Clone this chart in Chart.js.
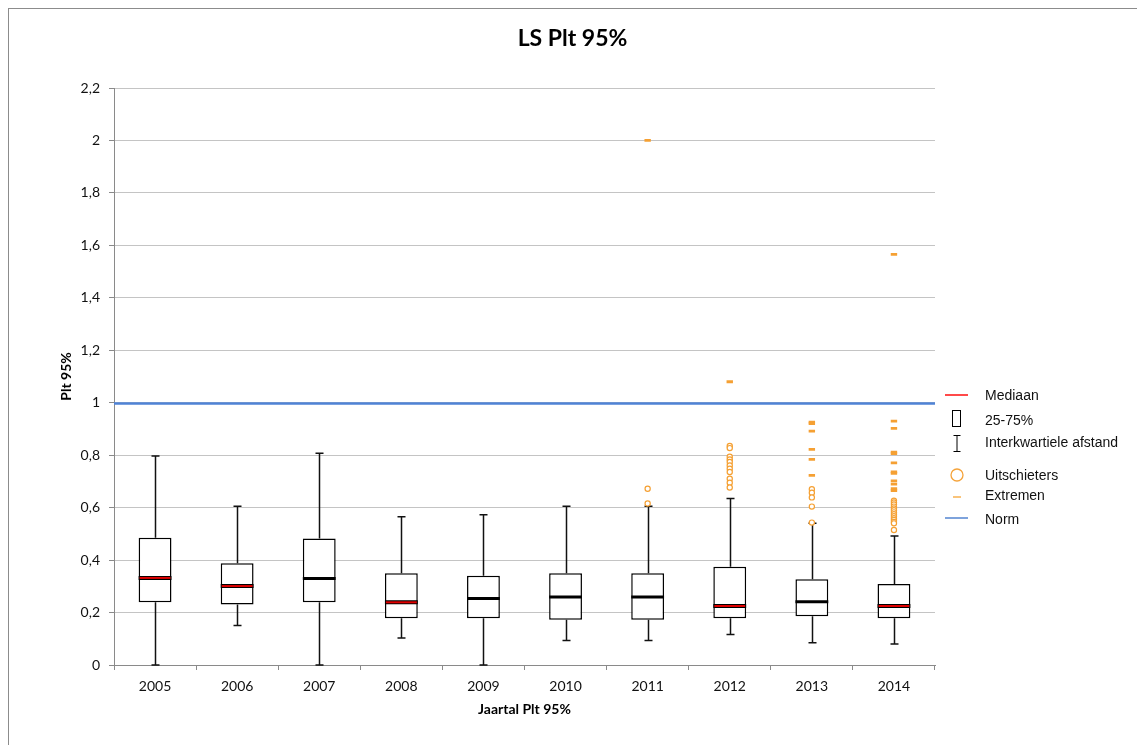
<!DOCTYPE html>
<html>
<head>
<meta charset="utf-8">
<script src="https://cdn.jsdelivr.net/npm/chart.js@4/dist/chart.umd.min.js"></script>
<style>
  html, body { margin: 0; padding: 0; background: #fff; }
  #wrap { position: relative; width: 1137px; height: 745px; overflow: hidden; }
  #frame { position: absolute; left: 8px; top: 8px; width: 1200px; height: 800px; border: 1px solid #8c8c8c; box-sizing: border-box; }
  canvas { position: absolute; left: 0; top: 0; }
  .lg { position: absolute; font-family: "Liberation Sans", Arial, sans-serif; font-size: 14px; color: #111; white-space: nowrap; line-height: 16px; }
  .sym { position: absolute; }
</style>
</head>
<body>
<div id="wrap">
  <div id="frame"></div>
  <canvas id="c" width="1137" height="745"></canvas>
  <!-- legend -->
  <svg class="sym" style="left:944px;top:390px" width="26" height="10"><line x1="1" y1="5" x2="24" y2="5" stroke="#ff4a4a" stroke-width="2"/></svg>
  <div class="lg" style="left:985px;top:387px">Mediaan</div>
  <svg class="sym" style="left:950px;top:409px" width="14" height="20"><rect x="2.5" y="1.5" width="8" height="16" fill="#fff" stroke="#000" stroke-width="1"/></svg>
  <div class="lg" style="left:985px;top:412px">25-75%</div>
  <svg class="sym" style="left:950px;top:433px" width="14" height="22"><line x1="7" y1="2" x2="7" y2="19" stroke="#000" stroke-width="1"/><line x1="3.5" y1="2.5" x2="10.5" y2="2.5" stroke="#000" stroke-width="1"/><line x1="3.5" y1="18.5" x2="10.5" y2="18.5" stroke="#000" stroke-width="1"/></svg>
  <div class="lg" style="left:985px;top:434px">Interkwartiele afstand</div>
  <svg class="sym" style="left:948px;top:466px" width="18" height="18"><circle cx="9" cy="9" r="6" fill="#fff" stroke="#f5a33a" stroke-width="1.3"/></svg>
  <div class="lg" style="left:985px;top:467px">Uitschieters</div>
  <svg class="sym" style="left:950px;top:492px" width="14" height="10"><line x1="3" y1="5" x2="11" y2="5" stroke="#f8b65a" stroke-width="1.6"/></svg>
  <div class="lg" style="left:985px;top:487px">Extremen</div>
  <svg class="sym" style="left:944px;top:513px" width="26" height="10"><line x1="1" y1="5" x2="24" y2="5" stroke="#7ea3dc" stroke-width="2"/></svg>
  <div class="lg" style="left:985px;top:511px">Norm</div>
</div>
<script>
// ---------------- data ----------------
const years = ['2005','2006','2007','2008','2009','2010','2011','2012','2013','2014'];
const lowWhisker  = [0.000, 0.151, 0.000, 0.103, 0.000, 0.093, 0.093, 0.116, 0.085, 0.080];
const q1          = [0.239, 0.231, 0.239, 0.178, 0.178, 0.173, 0.173, 0.178, 0.186, 0.178];
const medians     = [0.332, 0.301, 0.330, 0.239, 0.254, 0.259, 0.259, 0.225, 0.241, 0.225];
const q3          = [0.485, 0.388, 0.482, 0.350, 0.340, 0.350, 0.350, 0.375, 0.327, 0.309];
const highWhisker = [0.797, 0.605, 0.807, 0.565, 0.573, 0.605, 0.605, 0.635, 0.540, 0.492];

const outliers2011 = [0.672, 0.616];
const outliers2012 = [0.835, 0.827, 0.794, 0.784, 0.774, 0.761, 0.748, 0.736, 0.710, 0.695, 0.677];
const outliers2013 = [0.670, 0.657, 0.639, 0.604, 0.543];
const outliers2014 = [0.626, 0.620, 0.612, 0.604, 0.597, 0.590, 0.582, 0.575, 0.567, 0.560, 0.553, 0.545, 0.540, 0.515];

const extremes2011 = [2.0];
const extremes2012 = [1.08];
const extremes2013 = [0.926, 0.920, 0.892, 0.822, 0.784, 0.723];
const extremes2014 = [1.566, 0.930, 0.902, 0.812, 0.806, 0.771, 0.736, 0.731, 0.702, 0.690, 0.672, 0.665];

const normValue = 1;
const yMin = 0, yMax = 2.2, yStep = 0.2;

// ---------------- styles ----------------
const medianStyle = ['red','red','black','red','black','black','black','red','black','red'];
const ORANGE = '#f5a033';

function pts(year, arr) { return arr.map(v => ({ x: year, y: v })); }
const outlierData = [].concat(pts('2011', outliers2011), pts('2012', outliers2012), pts('2013', outliers2013), pts('2014', outliers2014));
const extremeData = [].concat(pts('2011', extremes2011), pts('2012', extremes2012), pts('2013', extremes2013), pts('2014', extremes2014));

const boxPlugin = {
  id: 'boxParts',
  beforeDatasetsDraw(chart) {
    const ctx = chart.ctx, ys = chart.scales.y, a = chart.chartArea;
    const yp = Math.round(ys.getPixelForValue(normValue)) + 0.5;
    ctx.save();
    ctx.strokeStyle = '#4f83d6';
    ctx.lineWidth = 2.5;
    ctx.beginPath(); ctx.moveTo(a.left, yp); ctx.lineTo(a.right, yp); ctx.stroke();
    ctx.restore();
  },
  afterDatasetDraw(chart, args) {
    if (args.index !== 0) return;
    const ctx = chart.ctx, xs = chart.scales.x, ys = chart.scales.y;
    const meta = chart.getDatasetMeta(0);
    ctx.save();
    years.forEach((yr, i) => {
      const x = Math.round(xs.getPixelForValue(i)) + 0.5;
      const half = meta.data[i].width / 2;
      const pLow = ys.getPixelForValue(lowWhisker[i]);
      const pQ1 = ys.getPixelForValue(q1[i]);
      const pQ3 = ys.getPixelForValue(q3[i]);
      const pHigh = ys.getPixelForValue(highWhisker[i]);
      ctx.strokeStyle = '#111';
      ctx.lineWidth = 1.5;
      ctx.beginPath();
      ctx.moveTo(x, pQ1); ctx.lineTo(x, pLow);
      ctx.moveTo(x, pQ3); ctx.lineTo(x, pHigh);
      ctx.moveTo(x - 4, pLow); ctx.lineTo(x + 4, pLow);
      ctx.moveTo(x - 4, pHigh); ctx.lineTo(x + 4, pHigh);
      ctx.stroke();
      const pm = ys.getPixelForValue(medians[i]);
      const xl = xs.getPixelForValue(i) - half, xr = xs.getPixelForValue(i) + half;
      if (medianStyle[i] === 'red') {
        ctx.strokeStyle = '#000'; ctx.lineWidth = 4;
        ctx.beginPath(); ctx.moveTo(xl, pm); ctx.lineTo(xr, pm); ctx.stroke();
        ctx.strokeStyle = '#e00000'; ctx.lineWidth = 2;
        ctx.beginPath(); ctx.moveTo(xl + 1, pm); ctx.lineTo(xr - 1, pm); ctx.stroke();
      } else {
        ctx.strokeStyle = '#000'; ctx.lineWidth = 3;
        ctx.beginPath(); ctx.moveTo(xl, pm); ctx.lineTo(xr, pm); ctx.stroke();
      }
    });
    ctx.restore();
  }
};

new Chart(document.getElementById('c'), {
  type: 'bar',
  data: {
    labels: years,
    datasets: [
      {
        label: '25-75%',
        data: years.map((y, i) => [q1[i], q3[i]]),
        backgroundColor: '#ffffff',
        borderColor: '#000000',
        borderWidth: 1.5,
        borderSkipped: false,
        barPercentage: 0.4,
        categoryPercentage: 1.0,
        order: 3
      },
      {
        type: 'line',
        label: 'Uitschieters',
        data: outlierData,
        showLine: false,
        pointStyle: 'circle',
        pointRadius: 2.6,
        pointBorderWidth: 1.2,
        pointBackgroundColor: '#ffffff',
        pointBorderColor: ORANGE,
        order: 1
      },
      {
        type: 'line',
        label: 'Extremen',
        data: extremeData,
        showLine: false,
        pointStyle: 'line',
        pointRadius: 3.2,
        pointBorderWidth: 2.8,
        pointBorderColor: ORANGE,
        pointBackgroundColor: ORANGE,
        order: 0
      }
    ]
  },
  options: {
    responsive: false,
    animation: false,
    events: [],
    layout: { padding: { left: 8, right: 0, top: 0, bottom: 23 } },
    plugins: {
      legend: { display: false },
      tooltip: { enabled: false },
      title: {
        display: true,
        text: 'LS Plt 95%',
        color: '#000',
        font: { family: 'Lato', size: 23, weight: 'bold' },
        padding: { top: 25, bottom: 35.4 }
      }
    },
    scales: {
      x: {
        type: 'category',
        offset: true,
        grid: { display: true, drawOnChartArea: false, tickLength: 5, color: '#8a8a8a', offset: true },
        border: { display: true, color: '#8a8a8a', width: 1 },
        ticks: { color: '#111', font: { family: 'Lato', size: 14 }, padding: 8, maxRotation: 0 },
        title: { display: true, text: 'Jaartal Plt 95%', color: '#000', font: { family: 'Lato', size: 14, weight: 'bold' }, padding: { top: 4, bottom: 4 } },
        afterFit: s => { s.height = 57; }
      },
      y: {
        min: yMin, max: yMax,
        grid: { color: '#c4c4c4', tickLength: 5, tickColor: '#8a8a8a' },
        border: { display: true, color: '#8a8a8a', width: 1 },
        ticks: {
          stepSize: yStep,
          color: '#111',
          padding: 9,
          font: { family: 'Lato', size: 14 },
          callback: v => String(Math.round(v * 10) / 10).replace('.', ',')
        },
        title: { display: true, text: 'Plt 95%', color: '#000', font: { family: 'Lato', size: 14, weight: 'bold' }, padding: { top: 50, bottom: 4 } },
        afterFit: s => { s.width = 106; }
      },
      legendSpace: {
        type: 'linear', position: 'right', display: true,
        ticks: { display: false }, grid: { display: false, drawTicks: false }, border: { display: false },
        afterFit: s => { s.width = 202; }
      }
    }
  },
  plugins: [boxPlugin]
});
</script>
</body>
</html>
